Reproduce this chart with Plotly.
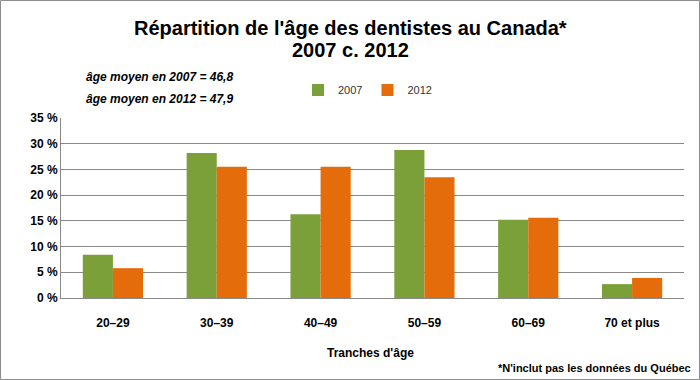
import plotly.graph_objects as go

categories = ["20–29", "30–39", "40–49", "50–59", "60–69", "70 et plus"]
values_2007 = [8.4, 28.2, 16.3, 28.8, 15.2, 2.7]
values_2012 = [5.8, 25.5, 25.5, 23.5, 15.6, 3.9]
y_ticks = [0, 5, 10, 15, 20, 25, 30, 35]

FONT = "Liberation Sans, Arial"
W, H = 700, 380
L, R, T, B = 61, 16, 118, 82
pw, ph = W - L - R, H - T - B

def px(x):
    return (x - L) / pw

def py(y):
    return (H - B - y) / ph

fig = go.Figure()
fig.add_trace(go.Bar(name="2007", x=categories, y=values_2007,
                     marker=dict(color="#7BA03A", line=dict(width=0))))
fig.add_trace(go.Bar(name="2012", x=categories, y=values_2012,
                     marker=dict(color="#E46C0A", line=dict(width=0))))

ann = []
def text(t, x, y, size, xanchor="center", color="black"):
    ann.append(dict(text=t, x=px(x), y=py(y), xref="paper", yref="paper",
                    xanchor=xanchor, yanchor="middle", showarrow=False,
                    font=dict(family=FONT, size=size, color=color)))

text("<b>Répartition de l'âge des dentistes au Canada*</b>", 350, 28, 20)
text("<b>2007 c. 2012</b>", 350, 50, 20)
text("<b><i>âge moyen en 2007 = 46,8</i></b>", 84, 77, 12, "left")
text("<b><i>âge moyen en 2012 = 47,9</i></b>", 84, 99, 12, "left")
text("<b>Tranches d'âge</b>", 370, 353, 12)
text("<b>*N'inclut pas les données du Québec</b>", 693, 368, 11, "right")

fig.update_layout(
    width=W, height=H,
    margin=dict(l=L, r=R, t=T, b=B),
    paper_bgcolor="white", plot_bgcolor="white",
    barmode="group", bargap=0.42, bargroupgap=0,
    font=dict(family=FONT, color="black"),
    showlegend=True,
    legend=dict(orientation="h", x=px(298), y=py(90), xanchor="left", yanchor="middle",
                font=dict(family=FONT, size=11, color="#333"),
                itemwidth=30, bgcolor="rgba(0,0,0,0)", traceorder="normal"),
    annotations=ann,
    shapes=[dict(type="rect", xref="paper", yref="paper",
                 x0=px(0.5), x1=px(699.5), y0=py(379.5), y1=py(0.5),
                 line=dict(color="#8c8c8c", width=1))],
    xaxis=dict(showgrid=False, showline=True, linecolor="#888", linewidth=1,
               ticks="", tickfont=dict(family=FONT, size=12, color="black"),
               tickprefix="<b>", ticksuffix="</b>", ticklabelstandoff=14),
    yaxis=dict(range=[0, 35], tickvals=y_ticks,
               ticktext=[f"<b>{v} %</b>" for v in y_ticks],
               showgrid=True, gridcolor="#888", gridwidth=1,
               showline=True, linecolor="#888", linewidth=1,
               zeroline=False, ticks="",
               tickfont=dict(family=FONT, size=12, color="black")),
)

fig.write_html("out.html", config={"displayModeBar": False},
               post_script="document.body.style.margin='0';document.body.style.overflow='hidden';")
